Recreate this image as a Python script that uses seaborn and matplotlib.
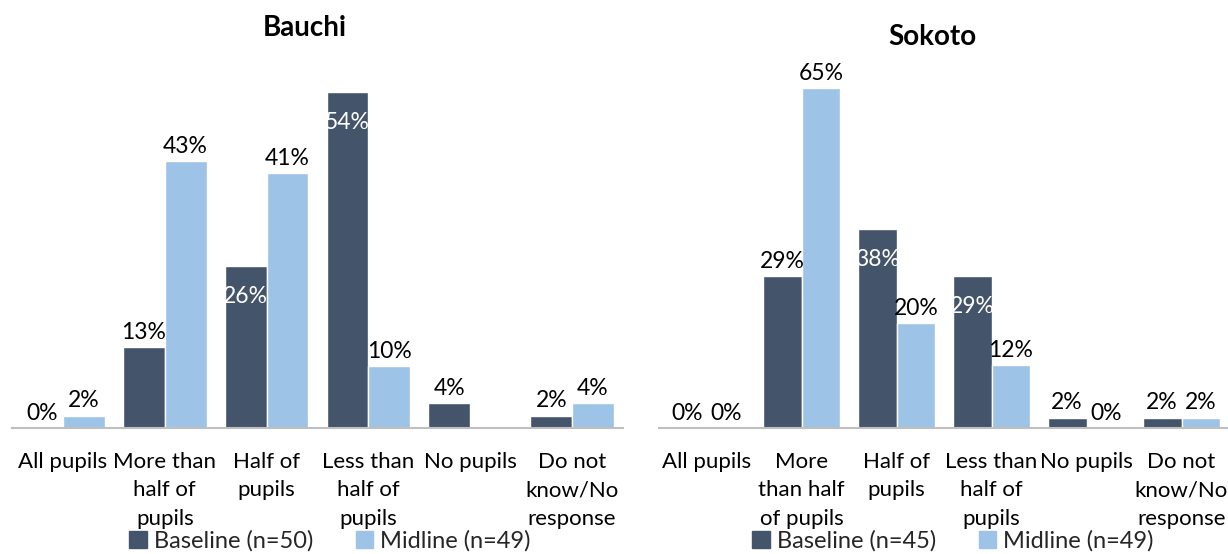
import matplotlib
matplotlib.use("Agg")
import matplotlib.pyplot as plt
import seaborn as sns
import pandas as pd
import numpy as np

sns.set_theme(style="white")
plt.rcParams['font.family'] = ['Lato', 'DejaVu Sans']

# ---- data ----
categories = ["All pupils", "More than half of pupils", "Half of pupils",
              "Less than half of pupils", "No pupils", "Do not know/No response"]
bauchi_ticklabels = ["All pupils", "More than\nhalf of\npupils", "Half of\npupils",
                     "Less than\nhalf of\npupils", "No pupils", "Do not\nknow/No\nresponse"]
sokoto_ticklabels = ["All pupils", "More\nthan half\nof pupils", "Half of\npupils",
                     "Less than\nhalf of\npupils", "No pupils", "Do not\nknow/No\nresponse"]

bauchi_baseline = [0, 13, 26, 54, 4, 2]
bauchi_midline = [2, 43, 41, 10, np.nan, 4]   # no midline value reported for "No pupils"
sokoto_baseline = [0, 29, 38, 29, 2, 2]
sokoto_midline = [0, 65, 20, 12, 0, 2]

bauchi_series = ["Baseline (n=50)", "Midline (n=49)"]
sokoto_series = ["Baseline (n=45)", "Midline (n=49)"]

# ---- style ----
DARK = "#44546A"
LIGHT = "#9DC3E6"
TICK_FS = 16
LABEL_FS = 16.5
LEG_FS = 17
TITLE_FS = 20

fig = plt.figure(figsize=(12.28, 5.54), dpi=100)

W, H = 1228, 554
def axrect(x0, x1, ybot, ytop):
    return [x0 / W, (H - ybot) / H, (x1 - x0) / W, (ybot - ytop) / H]

panels = [
    dict(title="Bauchi", base=bauchi_baseline, mid=bauchi_midline, series=bauchi_series,
         ticks=bauchi_ticklabels, rect=axrect(12, 623, 428, 55), ymax=60,
         inside={(0, 2), (0, 3)}, title_xy=(305, 28), legend_x=330),
    dict(title="Sokoto", base=sokoto_baseline, mid=sokoto_midline, series=sokoto_series,
         ticks=sokoto_ticklabels, rect=axrect(659, 1229, 428, 62), ymax=70,
         inside={(0, 2), (0, 3)}, title_xy=(932, 37), legend_x=953),
]

for p in panels:
    ax = fig.add_axes(p["rect"])
    df = pd.DataFrame({
        "Category": categories * 2,
        "Value": list(p["base"]) + list(p["mid"]),
        "Survey": [p["series"][0]] * len(categories) + [p["series"][1]] * len(categories),
    })
    sns.barplot(data=df, x="Category", y="Value", hue="Survey", order=categories,
                hue_order=p["series"], palette=[DARK, LIGHT], width=0.82,
                saturation=1, ax=ax, errorbar=None)
    ax.set_ylim(0, p["ymax"])
    ax.set_xlim(-0.5, len(categories) - 0.5)
    ax.set_xlabel("")
    ax.set_ylabel("")
    ax.set_yticks([])
    ax.set_xticks(range(len(categories)))
    ax.set_xticklabels(p["ticks"], fontsize=TICK_FS, linespacing=1.55, color="black")
    ax.tick_params(axis="x", length=0, pad=17)
    for s in ["top", "right", "left"]:
        ax.spines[s].set_visible(False)
    ax.spines["bottom"].set_color("#BFBFBF")
    ax.spines["bottom"].set_linewidth(1.5)

    for si, cont in enumerate(ax.containers):
        vals = p["base"] if si == 0 else p["mid"]
        for bar in cont.patches:
            cx = bar.get_x() + bar.get_width() / 2
            ci = int(round(cx))
            v = vals[ci]
            if v is None or (isinstance(v, float) and np.isnan(v)):
                continue
            top = bar.get_height()
            if (si, ci) in p["inside"]:
                ax.annotate(f"{v:.0f}%", (cx, top), xytext=(0, -21.6), textcoords="offset points",
                            ha="center", va="center", fontsize=LABEL_FS, color="white")
            else:
                ax.annotate(f"{v:.0f}%", (cx, top), xytext=(0, 10.5), textcoords="offset points",
                            ha="center", va="center", fontsize=LABEL_FS, color="black")

    leg = ax.get_legend()
    if leg is not None:
        leg.remove()
    handles = [plt.Rectangle((0, 0), 1, 1, color=c) for c in (DARK, LIGHT)]
    fig.legend(handles, p["series"], loc="center", bbox_to_anchor=(p["legend_x"] / W, (H - 541) / H),
               ncol=2, frameon=False, fontsize=LEG_FS, handlelength=0.75, handleheight=0.75,
               handletextpad=0.3, columnspacing=1.8, borderaxespad=0, borderpad=0)

    tx, ty = p["title_xy"]
    fig.text(tx / W, (H - ty) / H, p["title"], ha="center", va="center",
             fontsize=TITLE_FS, fontweight="bold", color="black")

fig.savefig("out.png", dpi=100)
